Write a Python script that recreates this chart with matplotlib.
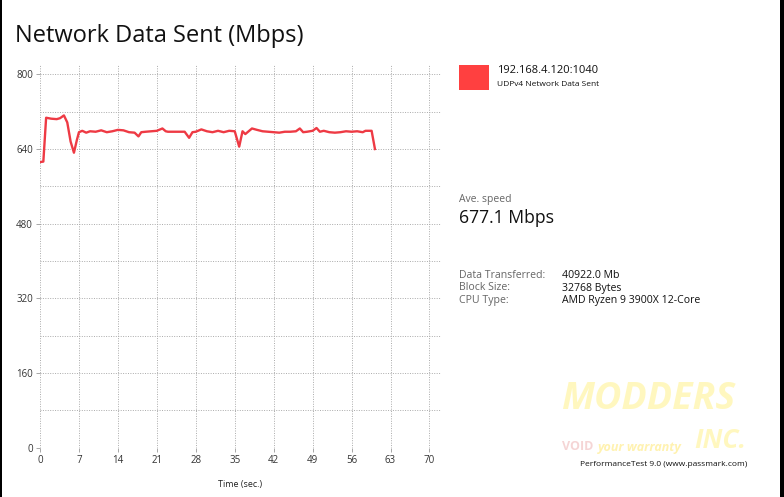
import matplotlib
matplotlib.use("Agg")
import matplotlib.pyplot as plt
from matplotlib.patches import Rectangle

plt.rcParams['font.family'] = ['Open Sans', 'DejaVu Sans']

# sample times (sec) and throughput (Mbps)
times = [0, 0.6, 1.1, 2, 3, 3.6, 4.3, 4.9, 5.5, 6.1, 6.6, 7.0, 7.6, 8.3, 9, 10, 11, 12,
         13, 14, 15, 16, 17, 17.7, 18.2, 19, 20, 21, 22, 22.6, 23, 24, 25, 26, 26.8,
         27.4, 28, 29, 30, 31, 32, 33, 34, 35, 35.8, 36.4, 36.9, 37.5, 38.1, 39, 40,
         41, 42, 43, 44, 45, 46, 46.7, 47.3, 48, 49, 49.7, 50.3, 51, 52, 53, 54, 55,
         56, 57, 58, 58.5, 59.6, 60.2]
mbps = [612, 613, 707, 705, 704, 706, 712, 697, 656, 632, 658, 676, 679, 675, 678, 677,
        680, 676, 678, 681, 680, 676, 675, 667, 676, 677, 678, 679, 684, 678, 677, 677,
        677, 677, 664, 676, 677, 682, 678, 676, 679, 676, 679, 678, 645, 678, 672, 678,
        684, 681, 678, 677, 676, 675, 677, 677, 678, 684, 676, 677, 679, 685, 677, 679,
        676, 675, 676, 678, 677, 678, 676, 679, 679, 640]

xticks = [0, 7, 14, 21, 28, 35, 42, 49, 56, 63, 70]
yticks = [0, 160, 320, 480, 640, 800]
ygrid = [0, 80, 160, 240, 320, 400, 480, 560, 640, 720, 800]

info_labels = ["Data Transferred:", "Block Size:", "CPU Type:"]
info_values = ["40922.0 Mb", "32768 Bytes", "AMD Ryzen 9 3900X 12-Core"]

W, H = 784, 497
fig = plt.figure(figsize=(W / 100, H / 100), dpi=100)
fig.patch.set_facecolor('white')

ax = fig.add_axes([40 / W, (H - 447.7) / H, 400.6 / W, (447.7 - 65) / H])
ax.plot(times, mbps, color='#ee3a44', lw=1.7, solid_joinstyle='round')
ax.set_xlim(0, 72)
ax.set_ylim(0, 820)
for s in ax.spines.values():
    s.set_visible(False)
ax.set_xticks(xticks)
ax.set_yticks(yticks)
ax.set_yticks(ygrid, minor=True)
ax.tick_params(axis='both', labelsize=7, colors='#333333', length=3, width=0.6,
               color='#999999', pad=2)
ax.tick_params(axis='y', which='minor', length=0)
ax.grid(True, which='both', linestyle=(0, (1, 1.5)), color='#aaaaaa', lw=0.7)
ax.set_xlabel("Time (sec.)", fontsize=6.5, color='#222222', labelpad=10)

fig.text(15 / W, 1 - 36 / H, "Network Data Sent (Mbps)", fontsize=17, color='#111111',
         va='center', ha='left')

# legend box
fig.add_artist(Rectangle((459 / W, 1 - 90 / H), 30 / W, 25 / H, transform=fig.transFigure,
                         facecolor='#ff4040', edgecolor='none'))
fig.text(497 / W, 1 - 71 / H, "192.168.4.120:1040", fontsize=8, color='#111111', va='center')
fig.text(497 / W, 1 - 85 / H, "UDPv4 Network Data Sent", fontsize=6, color='#111111', va='center')

fig.text(459 / W, 1 - 199 / H, "Ave. speed", fontsize=7.5, color='#666666', va='center')
fig.text(459 / W, 1 - 218 / H, "677.1 Mbps", fontsize=12.7, color='#111111', va='center')

for i, (lab, val) in enumerate(zip(info_labels, info_values)):
    y = 1 - (275 + 13 * i) / H
    fig.text(459 / W, y, lab, fontsize=7.6, color='#666666', va='center')
    fig.text(562 / W, y, val, fontsize=7.6, color='#111111', va='center')

# watermark
fig.text(648 / W, 1 - 399 / H, "MODDERS", fontsize=27, fontweight='bold', style='italic',
         color='#fff6b0', alpha=0.8, ha='center', va='center')
fig.text(720 / W, 1 - 440 / H, "INC.", fontsize=19, fontweight='bold', style='italic',
         color='#fff6b0', alpha=0.8, ha='center', va='center')
fig.text(562 / W, 1 - 447 / H, "VOID", fontsize=9, fontweight='bold', color='#f5d5d5',
         ha='left', va='center')
fig.text(598 / W, 1 - 447 / H, "your warranty", fontsize=9, fontweight='bold', style='italic',
         color='#fff2b0', ha='left', va='center')
fig.text(664 / W, 1 - 465 / H, "PerformanceTest 9.0 (www.passmark.com)", fontsize=6,
         color='#111111', ha='center', va='center')

# black frame edges
fig.add_artist(Rectangle((0, 0), 2 / W, 1, transform=fig.transFigure, facecolor='black',
                         edgecolor='none'))
fig.add_artist(Rectangle((780 / W, 0), 4 / W, 1, transform=fig.transFigure, facecolor='black',
                         edgecolor='none'))

fig.savefig("out.png", dpi=100)
